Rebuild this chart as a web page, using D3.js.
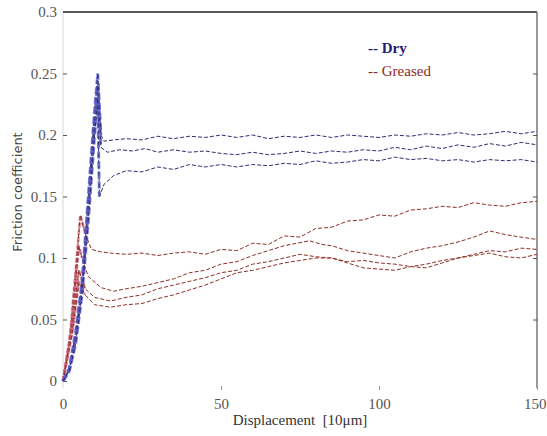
<!DOCTYPE html>
<html>
<head>
<meta charset="utf-8">
<script src="https://cdn.jsdelivr.net/npm/d3@7"></script>
<style>
  body { margin: 0; background: #fff; }
  svg { display: block; }
</style>
</head>
<body>
<div id="chart"></div>
<script>
var xTicks = [0, 50, 100, 150]
var yTicks = [0, 0.05, 0.1, 0.15, 0.2, 0.25, 0.3]
var seriesNames = ["Dry", "Greased"]

// dry runs: [displacement, friction]
var dry1 = [[0,0],[2,0.01],[4,0.04],[6,0.08],[8,0.15],[10,0.22],[11,0.25],[12,0.2],[13,0.195],[16,0.196],[20,0.197],[25,0.196],[30,0.199],[35,0.197],[40,0.199],[45,0.198],[50,0.2],[55,0.198],[60,0.2],[65,0.197],[70,0.199],[75,0.198],[80,0.2],[85,0.198],[90,0.2],[95,0.199],[100,0.198],[105,0.2],[110,0.199],[115,0.201],[120,0.2],[125,0.202],[130,0.2],[135,0.201],[140,0.203],[145,0.201],[150,0.203]]
var dry2 = [[0,0],[2,0.01],[4,0.035],[6,0.075],[8,0.14],[10,0.21],[11,0.24],[12,0.19],[14,0.186],[18,0.188],[22,0.187],[26,0.189],[30,0.186],[35,0.188],[40,0.186],[45,0.187],[50,0.185],[55,0.184],[60,0.186],[65,0.184],[70,0.185],[75,0.187],[80,0.185],[85,0.187],[90,0.186],[95,0.188],[100,0.187],[105,0.19],[110,0.188],[115,0.191],[120,0.189],[125,0.192],[130,0.19],[135,0.193],[140,0.191],[145,0.194],[150,0.192]]
var dry3 = [[0,0],[2,0.008],[4,0.03],[6,0.07],[8,0.13],[10,0.2],[11,0.23],[11.5,0.15],[13,0.16],[16,0.167],[20,0.171],[25,0.17],[30,0.174],[35,0.172],[40,0.176],[45,0.174],[50,0.176],[55,0.174],[60,0.176],[65,0.175],[70,0.177],[75,0.176],[80,0.179],[85,0.177],[90,0.178],[95,0.18],[100,0.179],[105,0.182],[110,0.18],[115,0.181],[120,0.179],[125,0.18],[130,0.178],[135,0.18],[140,0.179],[145,0.18],[150,0.178]]

// greased runs
var greased1 = [[0,0],[2,0.03],[4,0.09],[5.5,0.135],[7,0.12],[9,0.107],[12,0.105],[15,0.104],[20,0.103],[25,0.104],[30,0.102],[35,0.104],[40,0.105],[45,0.103],[50,0.107],[55,0.106],[60,0.112],[65,0.111],[70,0.118],[75,0.117],[80,0.124],[85,0.125],[90,0.13],[95,0.131],[100,0.135],[105,0.134],[110,0.139],[115,0.14],[120,0.142],[125,0.141],[130,0.145],[135,0.143],[140,0.142],[145,0.145],[150,0.146]]
var greased2 = [[0,0],[3,0.05],[5,0.11],[6,0.1],[8,0.085],[12,0.076],[16,0.073],[20,0.075],[25,0.077],[30,0.08],[35,0.083],[40,0.088],[45,0.09],[50,0.095],[55,0.097],[60,0.102],[65,0.106],[70,0.11],[74,0.112],[78,0.114],[82,0.111],[85,0.11],[90,0.106],[95,0.104],[100,0.102],[105,0.1],[110,0.105],[115,0.108],[120,0.11],[125,0.113],[130,0.117],[135,0.122],[140,0.119],[145,0.117],[150,0.115]]
var greased3 = [[0,0],[3,0.045],[5,0.09],[7,0.075],[10,0.068],[15,0.065],[20,0.068],[25,0.07],[30,0.075],[35,0.078],[40,0.081],[45,0.084],[50,0.088],[55,0.09],[60,0.095],[65,0.097],[70,0.1],[75,0.103],[80,0.101],[85,0.1],[90,0.097],[95,0.098],[100,0.096],[105,0.095],[110,0.093],[115,0.092],[120,0.096],[125,0.1],[130,0.102],[135,0.104],[140,0.101],[145,0.1],[150,0.103]]
var greased4 = [[0,0],[3,0.04],[5,0.08],[7,0.07],[10,0.062],[15,0.06],[20,0.062],[25,0.063],[30,0.067],[35,0.07],[40,0.074],[45,0.078],[50,0.083],[55,0.088],[60,0.09],[65,0.093],[70,0.096],[75,0.098],[80,0.1],[85,0.1],[90,0.096],[95,0.092],[100,0.091],[105,0.09],[110,0.093],[115,0.095],[120,0.098],[125,0.1],[130,0.103],[135,0.106],[140,0.105],[145,0.108],[150,0.107]]

var dryRuns = [dry1, dry2, dry3]
var greasedRuns = [greased1, greased2, greased3, greased4]

var width = 547, height = 436
var svg = d3.select("#chart").append("svg")
    .attr("width", width)
    .attr("height", height)

var x = d3.scaleLinear().domain([0, 150]).range([63, 537])
var y = d3.scaleLinear().domain([0, 0.3]).range([381, 12])

var line = d3.line().x(d => x(d[0])).y(d => y(d[1]))

/* frame */
svg.append("line").attr("x1", 63).attr("x2", 63).attr("y1", 12).attr("y2", 388)
    .attr("stroke", "#e4e4e4").attr("stroke-width", 1.5)
svg.append("line").attr("x1", 63).attr("x2", 537).attr("y1", 12).attr("y2", 12)
    .attr("stroke", "#222").attr("stroke-width", 1.5)
svg.append("line").attr("x1", 537).attr("x2", 537).attr("y1", 12).attr("y2", 388)
    .attr("stroke", "#777").attr("stroke-width", 1.5)

/* y axis left */
var yAxis = svg.append("g")
    .attr("transform", "translate(63,0)")
    .call(d3.axisLeft(y).tickValues(yTicks).tickSize(-4).tickPadding(6)
        .tickFormat(d => d === 0 ? "0" : String(+d.toFixed(2))))
yAxis.select(".domain").remove()
yAxis.selectAll("line").attr("stroke", "#555")
yAxis.selectAll("text").attr("font-family", "Liberation Serif, serif")
    .attr("font-size", 15).attr("fill", "#555")

/* y ticks right */
var yAxisR = svg.append("g")
    .attr("transform", "translate(537,0)")
    .call(d3.axisRight(y).tickValues(yTicks.slice(1, 6)).tickSize(-4).tickFormat(""))
yAxisR.select(".domain").remove()
yAxisR.selectAll("line").attr("stroke", "#555")

/* x axis */
var xAxis = svg.append("g")
    .attr("transform", "translate(0,390)")
    .call(d3.axisBottom(x).tickValues(xTicks).tickSize(-4).tickPadding(8))
xAxis.select(".domain").remove()
xAxis.selectAll("line").attr("stroke", "#999")
xAxis.selectAll(".tick").filter(d => d === 0).select("line").remove()
xAxis.selectAll("text").attr("font-family", "Liberation Serif, serif")
    .attr("font-size", 15).attr("fill", "#555")
// last label pushed in so it stays on the page
xAxis.selectAll(".tick").filter(d => d === 150).select("text")
    .attr("text-anchor", "end").attr("dx", 9)

/* greased curves: thick start, thin dashed rest */
greasedRuns.forEach(function(run) {
    svg.append("path")
        .attr("d", line(run.filter(d => d[0] <= 7)))
        .attr("fill", "none").attr("stroke", "#d0607a").attr("stroke-width", 2.6)
        .attr("stroke-dasharray", "5,2").attr("opacity", 0.75)
    svg.append("path")
        .attr("d", line(run))
        .attr("fill", "none").attr("stroke", "#8a3028").attr("stroke-width", 1)
        .attr("stroke-dasharray", "4,2")
})

/* dry curves */
dryRuns.forEach(function(run) {
    svg.append("path")
        .attr("d", line(run.filter(d => d[0] <= 12)))
        .attr("fill", "none").attr("stroke", "#5a5ac8").attr("stroke-width", 3)
        .attr("stroke-dasharray", "7,3").attr("opacity", 0.8)
    svg.append("path")
        .attr("d", line(run))
        .attr("fill", "none").attr("stroke", "#2e2e70").attr("stroke-width", 1)
        .attr("stroke-dasharray", "4,2")
})

/* legend */
svg.append("text").attr("x", 368).attr("y", 53)
    .attr("font-family", "Liberation Serif, serif").attr("font-size", 15)
    .attr("font-weight", "bold")
    .attr("fill", "#1c1c70").text("-- " + seriesNames[0])
svg.append("text").attr("x", 368).attr("y", 76)
    .attr("font-family", "Liberation Serif, serif").attr("font-size", 15)
    .attr("fill", "#8b2a22").text("-- " + seriesNames[1])

/* axis titles */
svg.append("text").attr("x", 300).attr("y", 425)
    .attr("text-anchor", "middle")
    .attr("font-family", "Liberation Serif, serif").attr("font-size", 15)
    .attr("fill", "#333").text("Displacement\u00a0 [10\u03bcm]")

svg.append("text")
    .attr("transform", "translate(22,192) rotate(-90)")
    .attr("text-anchor", "middle")
    .attr("font-family", "DejaVu Sans, sans-serif").attr("font-size", 13)
    .attr("fill", "#444").text("Friction coefficient")
</script>
</body>
</html>
